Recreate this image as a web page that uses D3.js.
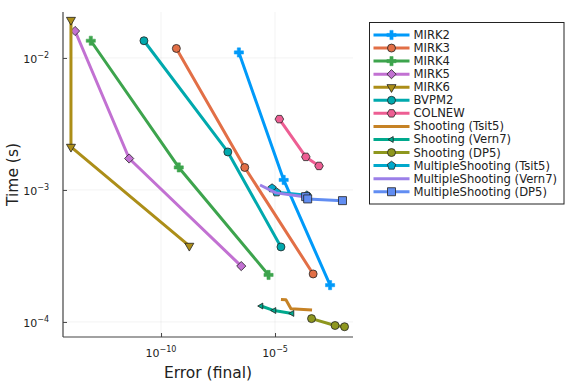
<!DOCTYPE html>
<html lang="en">
  <head>
    <meta charset="UTF-8" />
    <title>Work-precision</title>
    <script src="https://d3js.org/d3.v7.min.js"></script>
    <style>
      body {
        margin: 0;
        padding: 0;
        background-color: #fff;
      }
      text {
        font-family: "DejaVu Sans", sans-serif;
        fill: #222;
      }
    </style>
  </head>
  <body>
    <div id="chart"></div>

    <script>
      const width = 576;
      const height = 384;

      // series names, colours and marker shapes
      const names = ["MIRK2", "MIRK3", "MIRK4", "MIRK5", "MIRK6", "BVPM2", "COLNEW", "Shooting (Tsit5)", "Shooting (Vern7)", "Shooting (DP5)", "MultipleShooting (Tsit5)", "MultipleShooting (Vern7)", "MultipleShooting (DP5)"];
      const colors = ["#009af9", "#e26f46", "#3da44d", "#c271d2", "#ac8e18", "#00a9ad", "#ed5e93", "#c68225", "#00a98d", "#8e971e", "#00a8cb", "#9b7fe8", "#618df2"];
      const markers = ["cross", "circle", "cross", "diamond", "dtriangle", "circle", "hexagon", "none", "ltriangle", "circle", "pentagon", "none", "square"];

      // error values (x)
      const errMIRK2 = [2.6e-7, 2.4e-5, 2.6e-3];
      const errMIRK3 = [4.7e-10, 4.7e-7, 4.7e-4];
      const errMIRK4 = [8.3e-14, 6.0e-10, 5.2e-6];
      const errMIRK5 = [1.7e-14, 4.0e-12, 3.3e-7];
      const errMIRK6 = [1.12e-14, 1.12e-14, 1.74e-9];
      const errBVPM2 = [1.78e-11, 8.5e-8, 1.82e-5];
      const errCOLNEW = [1.55e-5, 2.24e-4, 8.5e-4];
      const errShootTsit5 = [1.82e-5, 3.0e-5, 5.0e-5, 4.2e-4];
      const errShootVern7 = [2.45e-6, 9.1e-6, 5.6e-5];
      const errShootDP5 = [4.0e-4, 4.3e-3, 1.12e-2];
      const errMSTsit5 = [7.4e-6, 1.17e-5, 2.5e-4];
      const errMSVern7 = [2.2e-6, 1.1e-5, 2.3e-4];
      const errMSDP5 = [2.2e-4, 2.7e-4, 9.1e-3];

      // run times in seconds (y)
      const timeMIRK2 = [1.1e-2, 1.19e-3, 1.9e-4];
      const timeMIRK3 = [1.18e-2, 1.48e-3, 2.31e-4];
      const timeMIRK4 = [1.35e-2, 1.48e-3, 2.27e-4];
      const timeMIRK5 = [1.6e-2, 1.73e-3, 2.65e-4];
      const timeMIRK6 = [1.94e-2, 2.12e-3, 3.77e-4];
      const timeBVPM2 = [1.35e-2, 1.94e-3, 3.7e-4];
      const timeCOLNEW = [3.44e-3, 1.78e-3, 1.52e-3];
      const timeShootTsit5 = [1.48e-4, 1.47e-4, 1.26e-4, 1.23e-4];
      const timeShootVern7 = [1.32e-4, 1.22e-4, 1.16e-4];
      const timeShootDP5 = [1.06e-4, 9.4e-5, 9.2e-5];
      const timeMSTsit5 = [1.03e-3, 9.6e-4, 9.1e-4];
      const timeMSVern7 = [1.09e-3, 9.5e-4, 8.85e-4];
      const timeMSDP5 = [8.9e-4, 8.55e-4, 8.3e-4];

      const errs = [errMIRK2, errMIRK3, errMIRK4, errMIRK5, errMIRK6, errBVPM2, errCOLNEW, errShootTsit5, errShootVern7, errShootDP5, errMSTsit5, errMSVern7, errMSDP5];
      const times = [timeMIRK2, timeMIRK3, timeMIRK4, timeMIRK5, timeMIRK6, timeBVPM2, timeCOLNEW, timeShootTsit5, timeShootVern7, timeShootDP5, timeMSTsit5, timeMSVern7, timeMSDP5];

      const xTicks = [1e-10, 1e-5];
      const xTickExp = ["−10", "−5"];
      const yTicks = [1e-4, 1e-3, 1e-2];
      const yTickExp = ["−4", "−3", "−2"];

      const series = names.map((name, i) => ({
        name,
        color: colors[i],
        marker: markers[i],
        points: errs[i].map((e, j) => [e, times[i][j]]),
      }));

      const plot = { left: 63, right: 353, top: 12, bottom: 337 };

      const x = d3.scaleLog().domain([Math.pow(10, -14.3), Math.pow(10, -1.58)]).range([plot.left, plot.right]);
      const y = d3.scaleLog().domain([Math.pow(10, -4.114), Math.pow(10, -1.652)]).range([plot.bottom, plot.top]);

      const svg = d3.select("#chart").append("svg").attr("width", width).attr("height", height);

      // grid
      svg.append("g")
        .selectAll("line")
        .data(xTicks)
        .join("line")
        .attr("x1", (d) => x(d))
        .attr("x2", (d) => x(d))
        .attr("y1", plot.top)
        .attr("y2", plot.bottom)
        .attr("stroke", "#000")
        .attr("stroke-opacity", 0.1)
        .attr("stroke-width", 0.5);
      svg.append("g")
        .selectAll("line")
        .data(yTicks)
        .join("line")
        .attr("x1", plot.left)
        .attr("x2", plot.right)
        .attr("y1", (d) => y(d))
        .attr("y2", (d) => y(d))
        .attr("stroke", "#000")
        .attr("stroke-opacity", 0.1)
        .attr("stroke-width", 0.5);

      // axes
      const xAxis = d3.axisBottom(x).tickValues(xTicks).tickSize(-4).tickFormat("");
      const yAxis = d3.axisLeft(y).tickValues(yTicks).tickSize(-4).tickFormat("");
      const gx = svg.append("g").attr("transform", `translate(0,${plot.bottom})`).call(xAxis);
      const gy = svg.append("g").attr("transform", `translate(${plot.left},0)`).call(yAxis);
      [gx, gy].forEach((g) => {
        g.select(".domain").attr("stroke", "#444").attr("stroke-width", 1.2);
        g.selectAll(".tick line").attr("stroke", "#444").attr("stroke-width", 1);
      });
      gx.select(".domain").attr("d", `M${plot.left},0H${plot.right}`);
      gy.select(".domain").attr("d", `M0,${plot.bottom}V${plot.top}`);

      // tick labels with superscripts
      xTicks.forEach((t, i) => {
        const tx = svg.append("text").attr("x", x(t)).attr("y", 357).attr("text-anchor", "middle").attr("font-size", 11);
        tx.append("tspan").text("10");
        tx.append("tspan").attr("dy", -5).attr("font-size", 8).text(xTickExp[i]);
      });
      yTicks.forEach((t, i) => {
        const ty = svg.append("text").attr("x", 49).attr("y", y(t) + 5).attr("text-anchor", "end").attr("font-size", 11);
        ty.append("tspan").text("10");
        ty.append("tspan").attr("dy", -5).attr("font-size", 8).text(yTickExp[i]);
      });

      svg.append("text").attr("x", (plot.left + plot.right) / 2).attr("y", 378).attr("text-anchor", "middle").attr("font-size", 15.5).text("Error (final)");
      svg.append("text").attr("transform", `translate(18,${(plot.top + plot.bottom) / 2}) rotate(-90)`).attr("text-anchor", "middle").attr("font-size", 15.5).text("Time (s)");

      // marker shapes
      function polygon(n, r, rot) {
        const pts = d3.range(n).map((k) => {
          const a = rot + (2 * Math.PI * k) / n;
          return [r * Math.cos(a), r * Math.sin(a)];
        });
        return "M" + pts.map((p) => p.join(",")).join("L") + "Z";
      }
      function markerPath(type) {
        switch (type) {
          case "circle":
            return d3.symbol(d3.symbolCircle, 50)();
          case "cross":
            return "M-1.6,-4.6H1.6V-1.6H4.6V1.6H1.6V4.6H-1.6V1.6H-4.6V-1.6H-1.6Z";
          case "diamond":
            return polygon(4, 4.6, 0);
          case "dtriangle":
            return polygon(3, 5.2, Math.PI / 2);
          case "ltriangle":
            return polygon(3, 3.4, Math.PI);
          case "hexagon":
            return polygon(6, 4.3, 0);
          case "pentagon":
            return polygon(5, 4.4, -Math.PI / 2);
          case "square":
            return "M-4,-4H4V4H-4Z";
        }
        return null;
      }

      const line = d3.line().x((d) => x(d[0])).y((d) => y(d[1]));

      const gSeries = svg.append("g");
      series.forEach((s) => {
        const g = gSeries.append("g");
        g.append("path").attr("d", line(s.points)).attr("fill", "none").attr("stroke", s.color).attr("stroke-width", 3).attr("stroke-linejoin", "round");
        if (s.marker !== "none") {
          g.selectAll(".m")
            .data(s.points)
            .join("path")
            .attr("class", "m")
            .attr("transform", (d) => `translate(${x(d[0])},${y(d[1])})`)
            .attr("d", markerPath(s.marker))
            .attr("fill", s.color)
            .attr("stroke", s.marker === "cross" ? s.color : "#222")
            .attr("stroke-width", s.marker === "cross" ? 0.5 : 0.8);
        }
      });

      // legend
      const legend = svg.append("g").attr("transform", "translate(369.5,22.5)");
      legend.append("rect").attr("width", 194.5).attr("height", 181.5).attr("fill", "#fff").attr("stroke", "#222").attr("stroke-width", 1);
      const item = legend
        .selectAll(".item")
        .data(series)
        .join("g")
        .attr("class", "item")
        .attr("transform", (d, i) => `translate(0,${12.5 + i * 13.06})`);
      item.append("line").attr("x1", 4).attr("x2", 40).attr("stroke", (d) => d.color).attr("stroke-width", 3);
      item
        .filter((d) => d.marker !== "none")
        .append("path")
        .attr("transform", "translate(22,0)")
        .attr("d", (d) => markerPath(d.marker))
        .attr("fill", (d) => d.color)
        .attr("stroke", (d) => (d.marker === "cross" ? d.color : "#222"))
        .attr("stroke-width", (d) => (d.marker === "cross" ? 0.5 : 0.8));
      item.append("text").attr("x", 44).attr("y", 4).attr("font-size", 11.6).text((d) => d.name);
    </script>
  </body>
</html>
